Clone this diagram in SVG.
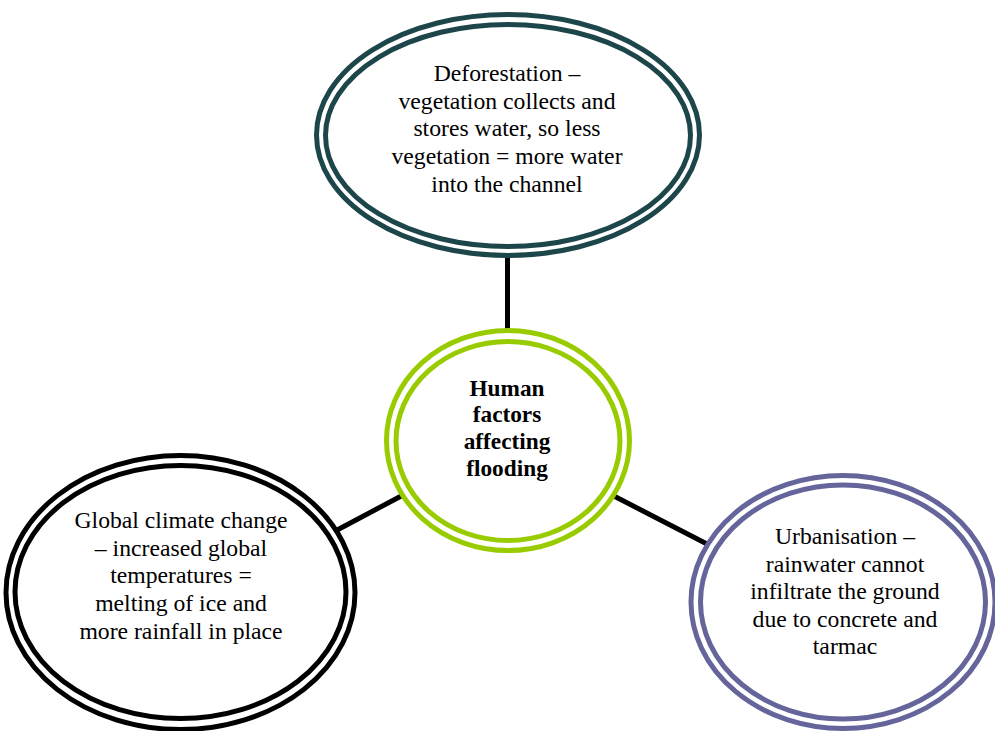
<svg xmlns="http://www.w3.org/2000/svg" width="995" height="731" viewBox="0 0 995 731">
<style>
.o{fill:#fff;stroke-width:5}
.i{fill:none;stroke-width:5}
.t{font-family:"Liberation Serif","Times New Roman",serif;font-size:23.7px;fill:#000;text-anchor:middle}
.b{font-family:"Liberation Serif","Times New Roman",serif;font-size:23.3px;font-weight:bold;fill:#000;text-anchor:middle}
.c{stroke:#000;stroke-width:5;fill:none}
</style>
<rect width="995" height="731" fill="#fff"/>
<g id="connectors">
<line class="c" x1="507.5" y1="253" x2="507.5" y2="334"/>
<line class="c" x1="331.5" y1="533" x2="405" y2="494"/>
<line class="c" x1="610" y1="494" x2="707" y2="544"/>
</g>
<g id="deforestation">
<ellipse class="o" cx="508" cy="135" rx="191.5" ry="120.5" stroke="#1d464b"/>
<ellipse class="i" cx="508" cy="135.5" rx="182.5" ry="111" stroke="#1d464b"/>
<text class="t" x="507" y="81">Deforestation –</text>
<text class="t" x="507" y="108.7">vegetation collects and</text>
<text class="t" x="507" y="136.4">stores water, so less</text>
<text class="t" x="507" y="164">vegetation = more water</text>
<text class="t" x="507" y="191.5">into the channel</text>
</g>
<g id="human-factors">
<ellipse class="o" cx="508" cy="440.5" rx="121.5" ry="110" stroke="#99cc00"/>
<ellipse class="i" cx="508" cy="441" rx="112" ry="99.5" stroke="#99cc00"/>
<text class="b" x="507" y="395.5">Human</text>
<text class="b" x="507" y="422.3">factors</text>
<text class="b" x="507" y="449">affecting</text>
<text class="b" x="507" y="476">flooding</text>
</g>
<g id="climate-change">
<ellipse class="o" cx="180.5" cy="592.5" rx="174.5" ry="137" stroke="#000"/>
<ellipse class="i" cx="180.5" cy="592" rx="165.5" ry="126.5" stroke="#000"/>
<text class="t" x="181" y="528">Global climate change</text>
<text class="t" x="181" y="555.7">– increased global</text>
<text class="t" x="181" y="583.4">temperatures =</text>
<text class="t" x="181" y="611.1">melting of ice and</text>
<text class="t" x="181" y="638.8">more rainfall in place</text>
</g>
<g id="urbanisation">
<ellipse class="o" cx="843" cy="602" rx="152" ry="126.5" stroke="#65659c"/>
<ellipse class="i" cx="843" cy="602" rx="142.5" ry="117" stroke="#65659c"/>
<text class="t" x="845" y="544">Urbanisation –</text>
<text class="t" x="845" y="571.6">rainwater cannot</text>
<text class="t" x="845" y="599.2">infiltrate the ground</text>
<text class="t" x="845" y="626.8">due to concrete and</text>
<text class="t" x="845" y="654.4">tarmac</text>
</g>
</svg>
